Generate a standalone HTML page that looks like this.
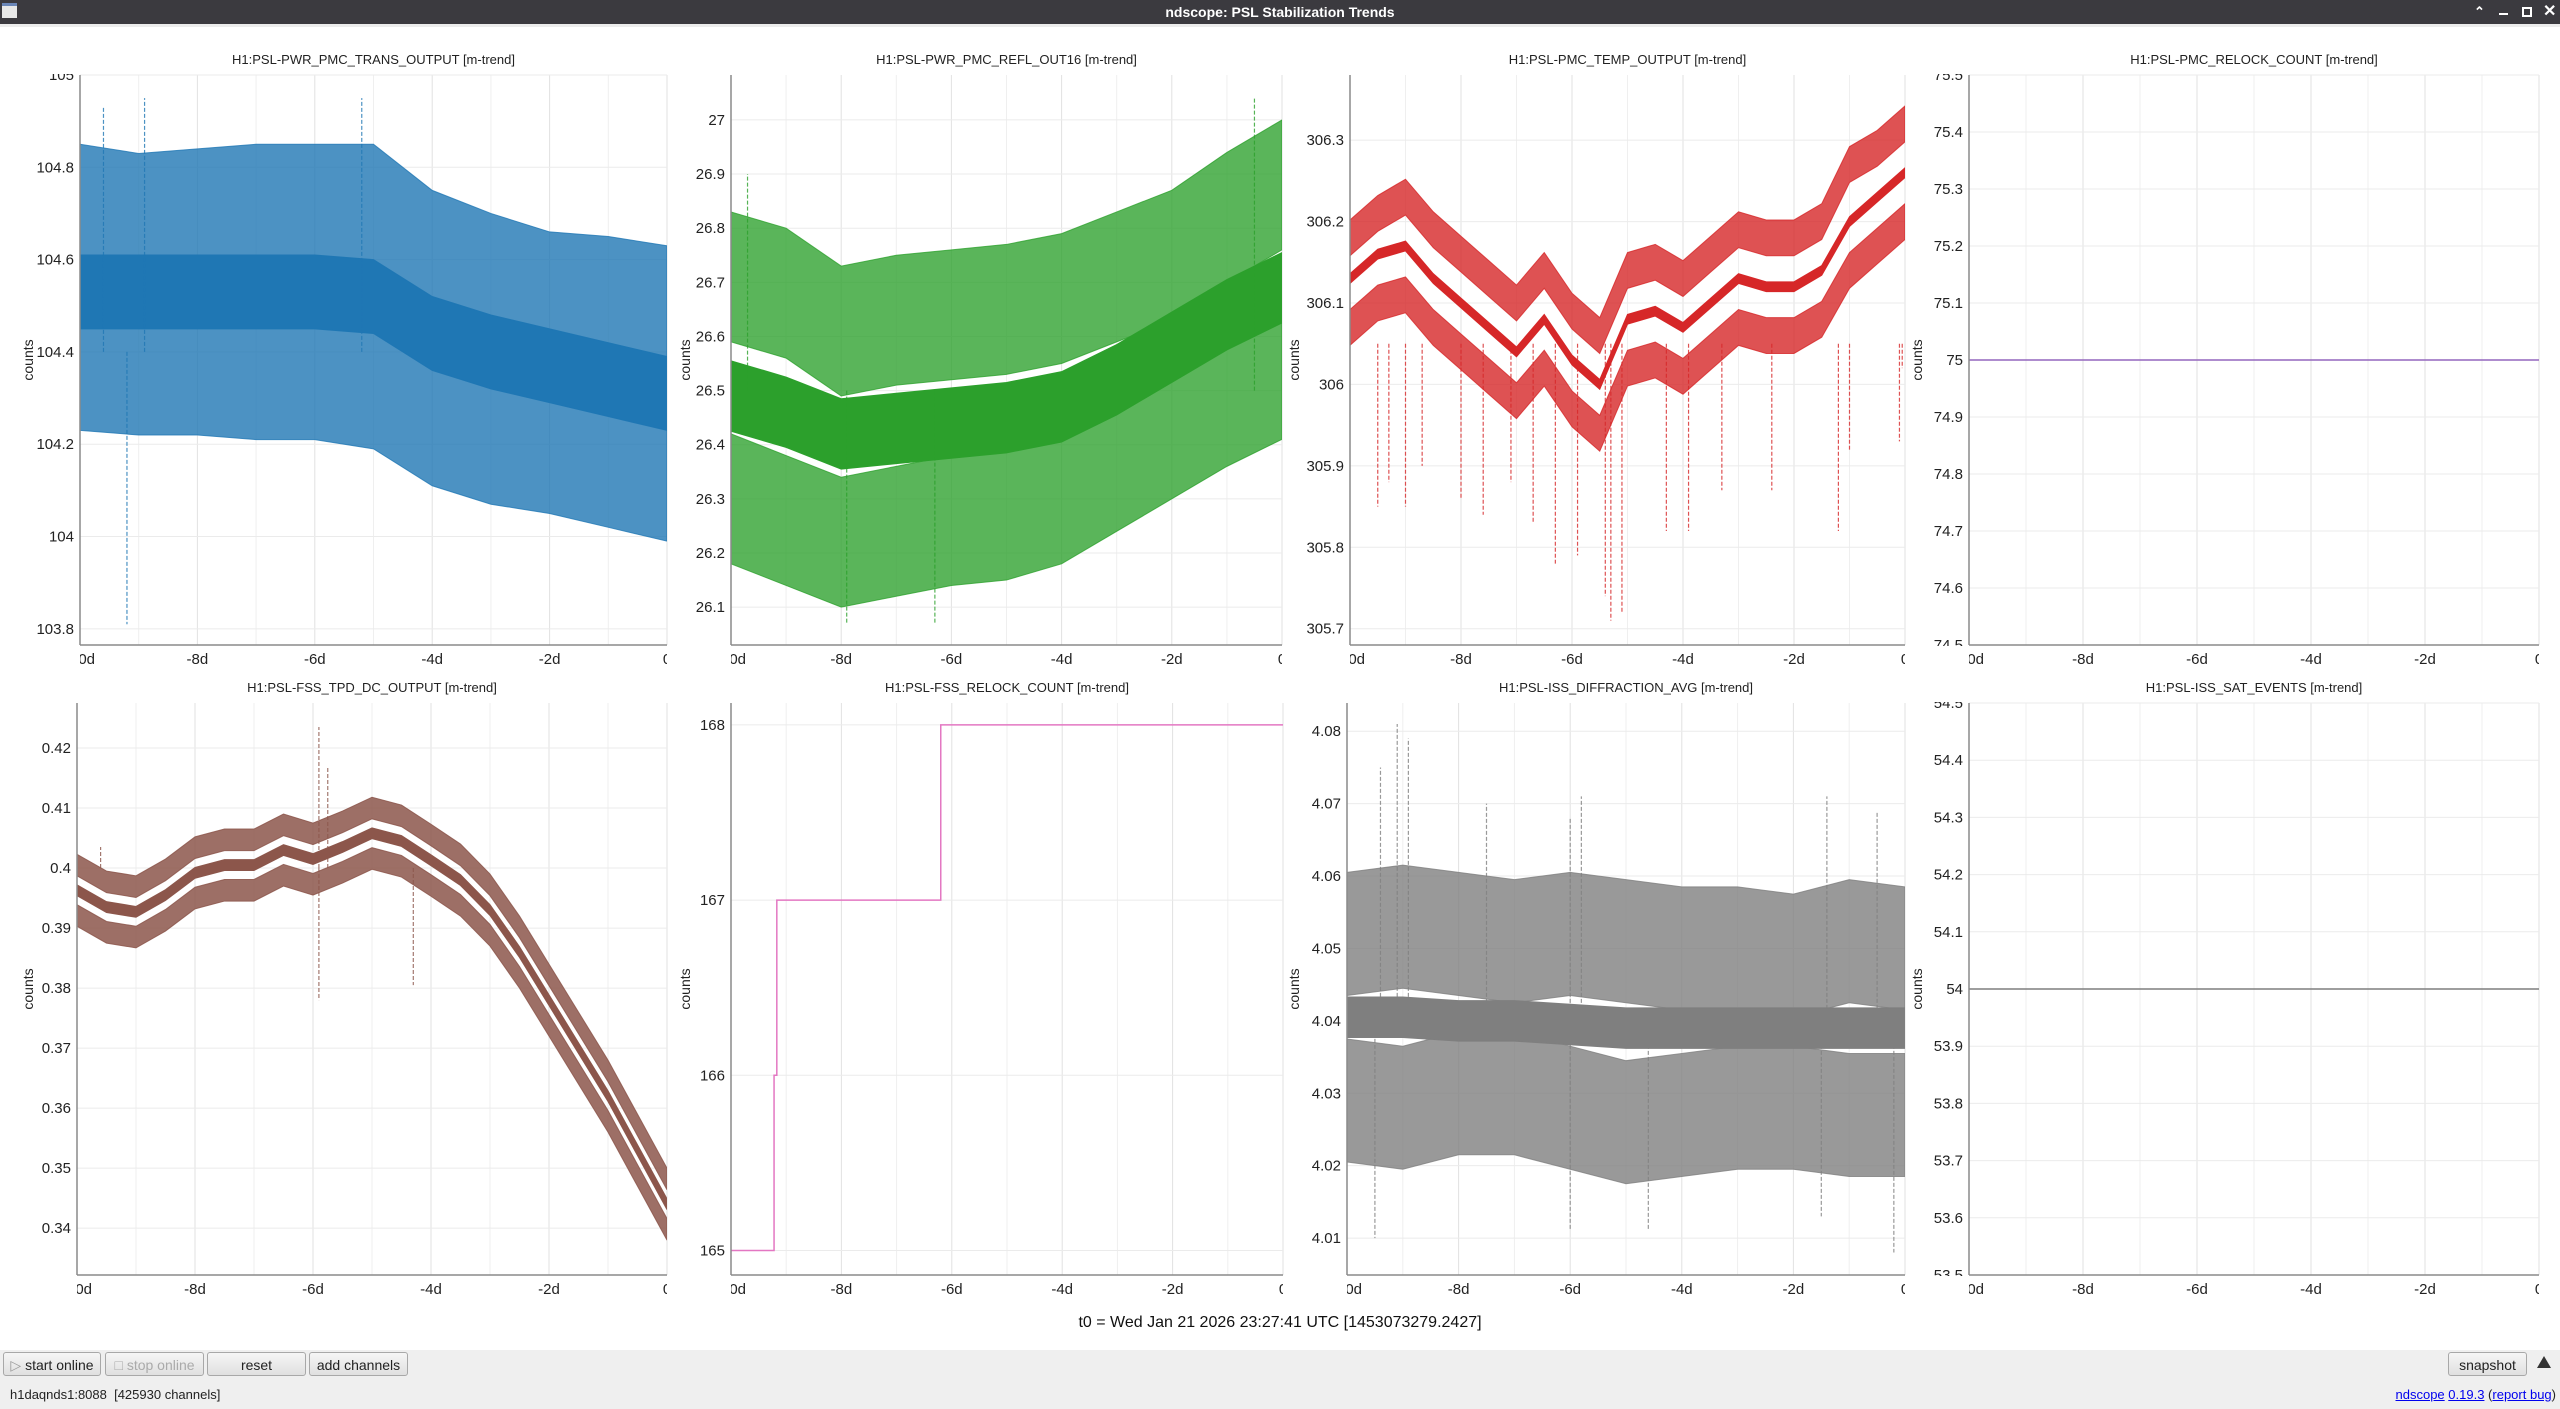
<!DOCTYPE html>
<html><head><meta charset="utf-8"><title>ndscope: PSL Stabilization Trends</title>
<style>
html,body{margin:0;padding:0;width:2560px;height:1409px;overflow:hidden;background:#fff;font-family:"Liberation Sans",sans-serif;}
#titlebar{position:absolute;left:0;top:0;width:2560px;height:24px;background:#3b3a3f;color:#fff;font-weight:bold;font-size:14px;line-height:24px;text-align:center;}
#strip{position:absolute;left:0;top:24px;width:2560px;height:3px;background:#ececec;}
#toolbar{position:absolute;left:0;top:1350px;width:2560px;height:59px;background:#efefef;}
.btn{position:absolute;top:2px;height:24px;border:1px solid #a8a8a8;border-radius:3px;background:linear-gradient(#f6f6f6,#e0e0e0);font-size:14px;line-height:24px;text-align:center;color:#222;box-sizing:border-box;}
.status{position:absolute;top:37px;font-size:13px;color:#222;}
a{color:#0000ee;text-decoration:underline;}
svg text{font-family:"Liberation Sans",sans-serif;}
</style></head><body>
<div id="titlebar">ndscope: PSL Stabilization Trends
<span style="position:absolute;left:2px;top:3px;width:15px;height:15px;background:#e8e8e8;border-top:3px solid #6a86b8;box-sizing:border-box;"></span>
<span style="position:absolute;left:2474px;top:0;font-size:13px;">&#8963;</span>
<span style="position:absolute;left:2499px;top:13px;width:9px;height:2px;background:#fff;"></span>
<span style="position:absolute;left:2522px;top:7px;width:6px;height:6px;border:2px solid #fff;"></span>
<span style="position:absolute;left:2543px;top:0;font-size:16px;">&#10005;</span>
</div>
<div id="strip"></div>
<svg id="chart" width="2560" height="1409" style="position:absolute;left:0;top:0;" xmlns="http://www.w3.org/2000/svg"></svg>
<div style="position:absolute;left:0;top:1314px;width:2560px;text-align:center;font-size:16px;color:#111;">t0 = Wed Jan 21 2026 23:27:41 UTC [1453073279.2427]</div>
<div id="toolbar">
<div class="btn" style="left:3px;width:98px;"><span style="color:#999">&#9655;</span> start online</div>
<div class="btn" style="left:105px;width:99px;color:#aaa;">&#9633; stop online</div>
<div class="btn" style="left:207px;width:99px;">reset</div>
<div class="btn" style="left:309px;width:99px;">add channels</div>
<div class="btn" style="left:2448px;width:79px;">snapshot</div>
<div style="position:absolute;left:2537px;top:6px;width:0;height:0;border-left:7px solid transparent;border-right:7px solid transparent;border-bottom:12px solid #333;"></div>
<div class="status" style="left:10px;">h1daqnds1:8088&nbsp; [425930 channels]</div>
<div class="status" style="right:4px;"><a>ndscope</a> <a>0.19.3</a> (<a>report bug</a>)</div>
</div>
<script>
// ---- data ----
const T11 = [-10,-9,-8,-7,-6,-5,-4,-3,-2,-1,0];
const T21 = [-10,-9.5,-9,-8.5,-8,-7.5,-7,-6.5,-6,-5.5,-5,-4.5,-4,-3.5,-3,-2.5,-2,-1.5,-1,-0.5,0];
const xTickValues = [-10,-8,-6,-4,-2,0];
const xTickLabels = ["-10d","-8d","-6d","-4d","-2d","0"];

const p1Mean  = [104.53,104.53,104.53,104.53,104.53,104.52,104.44,104.40,104.37,104.34,104.31];
const p1Upper = [104.72,104.70,104.71,104.72,104.72,104.72,104.62,104.57,104.53,104.52,104.50];
const p1Lower = [104.36,104.35,104.35,104.34,104.34,104.32,104.24,104.20,104.18,104.15,104.12];
const p1SpikeT = [-9.2,-8.9,-5.2,-9.6];
const p1SpikeV = [103.81,104.95,104.95,104.93];
const p1Ticks = [103.8,104,104.2,104.4,104.6,104.8,105];

const p2Mean  = [26.49,26.46,26.42,26.43,26.44,26.45,26.47,26.52,26.58,26.64,26.69];
const p2Upper = [26.71,26.68,26.61,26.63,26.64,26.65,26.67,26.71,26.75,26.82,26.88];
const p2Lower = [26.30,26.26,26.22,26.24,26.26,26.27,26.30,26.36,26.42,26.48,26.53];
const p2SpikeT = [-7.9,-6.3,-0.5,-9.7];
const p2SpikeV = [26.07,26.07,27.04,26.9];
const p2Ticks = [26.1,26.2,26.3,26.4,26.5,26.6,26.7,26.8,26.9,27];

const p3Mean  = [306.13,306.16,306.17,306.13,306.10,306.07,306.04,306.08,306.03,306.00,306.08,306.09,306.07,306.10,306.13,306.12,306.12,306.14,306.20,306.23,306.26];
const p3Upper = [306.18,306.21,306.23,306.19,306.16,306.13,306.10,306.14,306.09,306.06,306.14,306.15,306.13,306.16,306.19,306.18,306.18,306.20,306.27,306.29,306.32];
const p3Lower = [306.07,306.10,306.11,306.07,306.04,306.01,305.98,306.02,305.97,305.94,306.02,306.03,306.01,306.04,306.07,306.06,306.06,306.08,306.14,306.17,306.20];
const p3SpikeT = [-9.5,-9.3,-9.0,-8.7,-8.0,-7.6,-7.1,-6.7,-6.3,-5.9,-5.4,-5.3,-5.1,-4.3,-3.9,-3.3,-2.4,-1.2,-1.0,-0.1,-0.05];
const p3SpikeV = [305.85,305.88,305.85,305.90,305.86,305.84,305.88,305.83,305.78,305.79,305.74,305.71,305.72,305.82,305.82,305.87,305.87,305.82,305.92,305.93,306.02];
const p3Ticks = [305.7,305.8,305.9,306,306.1,306.2,306.3];

const p4T = [-10,0];
const p4V = [75,75];
const p4Ticks = [74.5,74.6,74.7,74.8,74.9,75,75.1,75.2,75.3,75.4,75.5];

const p5Mean = [0.3963,0.3935,0.3927,0.3955,0.3992,0.4005,0.4005,0.4030,0.4015,0.4035,0.4058,0.4045,0.4013,0.3980,0.3930,0.3860,0.3780,0.3700,0.3620,0.3530,0.3440];
const p5SpikeT = [-5.9,-5.9,-5.75,-9.6,-4.3];
const p5SpikeV = [0.4235,0.3780,0.417,0.4035,0.3805];
const p5Ticks = [0.34,0.35,0.36,0.37,0.38,0.39,0.4,0.41,0.42];

const p6T = [-10,-9.22,-9.22,-9.17,-9.17,-6.2,-6.2,0];
const p6V = [165,165,166,166,167,167,168,168];
const p6Ticks = [165,166,167,168];

const p7Mean  = [4.0405,4.0405,4.0400,4.0400,4.0395,4.0390,4.0390,4.0390,4.0390,4.0390,4.0390];
const p7Upper = [4.052,4.053,4.052,4.051,4.052,4.051,4.050,4.050,4.049,4.051,4.050];
const p7Lower = [4.029,4.028,4.030,4.030,4.028,4.026,4.027,4.028,4.028,4.027,4.027];
const p7SpikeT = [-9.4,-9.1,-8.9,-7.5,-6.0,-5.8,-1.4,-0.5,-9.5,-6.0,-4.6,-1.5,-0.2];
const p7SpikeV = [4.075,4.081,4.079,4.070,4.068,4.071,4.071,4.069,4.010,4.011,4.011,4.013,4.008];
const p7Ticks = [4.01,4.02,4.03,4.04,4.05,4.06,4.07,4.08];

const p8T = [-10,0];
const p8V = [54,54];
const p8Ticks = [53.5,53.6,53.7,53.8,53.9,54,54.1,54.2,54.3,54.4,54.5];

// ---- drawing ----
const NS = "http://www.w3.org/2000/svg";
const svg = document.getElementById('chart');
function mk(tag, attrs, parent){
  const e = document.createElementNS(NS, tag);
  for (const k in attrs) e.setAttribute(k, attrs[k]);
  (parent||svg).appendChild(e);
  return e;
}
function fmt(v){ return String(parseFloat(v.toFixed(4))); }
let clipId = 0;

function panel(cfg){
  const g = mk('g', {});
  
  
  const sx = t => cfg.x0 + (t + 10) / 10 * (cfg.x1 - cfg.x0);
  const sy = v => cfg.y1 - (v - cfg.ymin) / (cfg.ymax - cfg.ymin) * (cfg.y1 - cfg.y0);
  const ti = mk('text', {x:(cfg.x0+cfg.x1)/2, y:cfg.y0-11, 'text-anchor':'middle', 'font-size':13, fill:'#222'}, g);
  ti.textContent = cfg.title;
  
  
  for (let d = -9; d <= 0; d++) {
    const gl = mk('line', {x1:sx(d), x2:sx(d), y1:cfg.y0, y2:cfg.y1, stroke: d%2===0 ? '#e2e2e2' : '#efefef', 'stroke-width':1}, g);
    
    
  }
  cfg.ticks.forEach(v => {
    const gl = mk('line', {x1:cfg.x0, x2:cfg.x1, y1:sy(v), y2:sy(v), stroke:'#ebebeb', 'stroke-width':1}, g);
    
    
  });
  const cid = 'c' + (clipId++);
  const cp = mk('clipPath', {id:cid}, g);
  mk('rect', {x:cfg.x0, y:cfg.y0, width:cfg.x1-cfg.x0, height:cfg.y1-cfg.y0}, cp);
  const dg = mk('g', {'clip-path':'url(#'+cid+')'}, g);
  
  
  function band(times, center, hw, color, op, nm){
    let pts = times.map((t,i)=> sx(t)+','+sy(center[i]+hw));
    const back = times.map((t,i)=> sx(t)+','+sy(center[i]-hw)).reverse();
    const p = mk('polygon', {points: pts.concat(back).join(' '), fill: color, 'fill-opacity': op, stroke: color, 'stroke-opacity': op, 'stroke-width': 1}, dg);
    
    
  }
  function line(times, vals, color, w, nm){
    const p = mk('polyline', {points: times.map((t,i)=> sx(t)+','+sy(vals[i])).join(' '), fill:'none', stroke:color, 'stroke-width':w}, dg);
    
    
  }
  function spikes(ts, vs, base, color){
    ts.forEach((t,i)=>{
      const b = base(t);
      const s = mk('line', {x1:sx(t), x2:sx(t), y1:sy(b), y2:sy(vs[i]), stroke:color, 'stroke-width':1.2, 'stroke-dasharray':'4,2', 'stroke-opacity':0.8}, dg);
      
      
    });
  }
  cfg.draw({band, line, spikes, sx, sy});
  mk('line', {x1:cfg.x0, x2:cfg.x0, y1:cfg.y0, y2:cfg.y1, stroke:'#8a8a8a', 'stroke-width':1.5}, g);
  mk('line', {x1:cfg.x0, x2:cfg.x1, y1:cfg.y1, y2:cfg.y1, stroke:'#8a8a8a', 'stroke-width':1.5}, g);
  const yc = 'c' + (clipId++);
  const ycp = mk('clipPath', {id:yc}, g);
  mk('rect', {x:cfg.x0-80, y:cfg.y0-1, width:80, height:cfg.y1-cfg.y0+2}, ycp);
  const yg = mk('g', {'clip-path':'url(#'+yc+')'}, g);
  cfg.ticks.forEach(v => {
    const t = mk('text', {x:cfg.x0-6, y:sy(v)+5, 'text-anchor':'end', 'font-size':15, fill:'#222'}, yg);
    t.textContent = fmt(v);
    
    
  });
  const xc = 'c' + (clipId++);
  const xcp = mk('clipPath', {id:xc}, g);
  mk('rect', {x:cfg.x0, y:cfg.y1, width:cfg.x1-cfg.x0, height:30}, xcp);
  const xg = mk('g', {'clip-path':'url(#'+xc+')'}, g);
  xTickValues.forEach((v,i) => {
    const t = mk('text', {x:sx(v), y:cfg.y1+19, 'text-anchor':'middle', 'font-size':15, fill:'#222'}, xg);
    t.textContent = xTickLabels[i];
    
    
  });
  const yl = mk('text', {x:0, y:0, 'text-anchor':'middle', 'font-size':14, fill:'#222', transform:'translate('+(cfg.lx)+','+((cfg.y0+cfg.y1)/2)+') rotate(-90)'}, g);
  yl.textContent = 'counts';
  
  
}

const R1 = {y0:75, y1:645}, R2 = {y0:703, y1:1275};
const blue='#1f77b4', green='#2ca02c', red='#d62728', purple='#9467bd', brown='#8c564b', pink='#e377c2', gray='#7f7f7f';

panel(Object.assign({name:'pmc-trans-output-panel', title:'H1:PSL-PWR_PMC_TRANS_OUTPUT [m-trend]', x0:80, x1:667, lx:33, ymin:103.765, ymax:105.0, ticks:p1Ticks,
  draw:({band,line,spikes})=>{
    band(T11, p1Upper, 0.13, blue, 0.8, 'max-band');
    band(T11, p1Lower, 0.13, blue, 0.8, 'min-band');
    band(T11, p1Mean, 0.08, blue, 1, 'mean-band');
    spikes(p1SpikeT, p1SpikeV, t=>104.4, blue);
  }}, R1));
panel(Object.assign({name:'pmc-refl-out16-panel', title:'H1:PSL-PWR_PMC_REFL_OUT16 [m-trend]', x0:731, x1:1282, lx:690, ymin:26.03, ymax:27.083, ticks:p2Ticks,
  draw:({band,line,spikes})=>{
    band(T11, p2Upper, 0.12, green, 0.78, 'max-band');
    band(T11, p2Lower, 0.12, green, 0.78, 'min-band');
    band(T11, p2Mean, 0.065, green, 1, 'mean-band');
    spikes(p2SpikeT, p2SpikeV, t=>26.5, green);
  }}, R1));
panel(Object.assign({name:'pmc-temp-output-panel', title:'H1:PSL-PMC_TEMP_OUTPUT [m-trend]', x0:1350, x1:1905, lx:1299, ymin:305.68, ymax:306.38, ticks:p3Ticks,
  draw:({band,line,spikes})=>{
    spikes(p3SpikeT, p3SpikeV, t=>306.05, red);
    band(T21, p3Upper, 0.022, red, 0.8, 'max-band');
    band(T21, p3Lower, 0.022, red, 0.8, 'min-band');
    band(T21, p3Mean, 0.006, red, 1, 'mean-band');
  }}, R1));
panel(Object.assign({name:'pmc-relock-count-panel', title:'H1:PSL-PMC_RELOCK_COUNT [m-trend]', x0:1969, x1:2539, lx:1922, ymin:74.5, ymax:75.5, ticks:p4Ticks,
  draw:({line})=>{ line(p4T, p4V, purple, 1.5, 'relock-line'); }}, R1));

panel(Object.assign({name:'fss-tpd-dc-output-panel', title:'H1:PSL-FSS_TPD_DC_OUTPUT [m-trend]', x0:77, x1:667, lx:33, ymin:0.3322, ymax:0.4275, ticks:p5Ticks,
  draw:({band,line,spikes})=>{
    spikes(p5SpikeT, p5SpikeV, t=>0.400, brown);
    band(T21, p5Mean.map(v=>v+0.0042), 0.0018, brown, 0.85, 'max-band');
    band(T21, p5Mean.map(v=>v-0.0042), 0.0018, brown, 0.85, 'min-band');
    band(T21, p5Mean, 0.0009, brown, 1, 'mean-band');
  }}, R2));
panel(Object.assign({name:'fss-relock-count-panel', title:'H1:PSL-FSS_RELOCK_COUNT [m-trend]', x0:731, x1:1283, lx:690, ymin:164.86, ymax:168.125, ticks:p6Ticks,
  draw:({line})=>{ line(p6T, p6V, pink, 1.5, 'relock-step-line'); }}, R2));
panel(Object.assign({name:'iss-diffraction-avg-panel', title:'H1:PSL-ISS_DIFFRACTION_AVG [m-trend]', x0:1347, x1:1905, lx:1299, ymin:4.0049, ymax:4.0839, ticks:p7Ticks,
  draw:({band,line,spikes})=>{
    spikes(p7SpikeT, p7SpikeV, t=>4.04, gray);
    band(T11, p7Upper, 0.0085, gray, 0.8, 'max-band');
    band(T11, p7Lower, 0.0085, gray, 0.8, 'min-band');
    band(T11, p7Mean, 0.0028, gray, 1, 'mean-band');
  }}, R2));
panel(Object.assign({name:'iss-sat-events-panel', title:'H1:PSL-ISS_SAT_EVENTS [m-trend]', x0:1969, x1:2539, lx:1922, ymin:53.5, ymax:54.5, ticks:p8Ticks,
  draw:({line})=>{ line(p8T, p8V, gray, 1.5, 'sat-events-line'); }}, R2));
</script>
</body></html>
